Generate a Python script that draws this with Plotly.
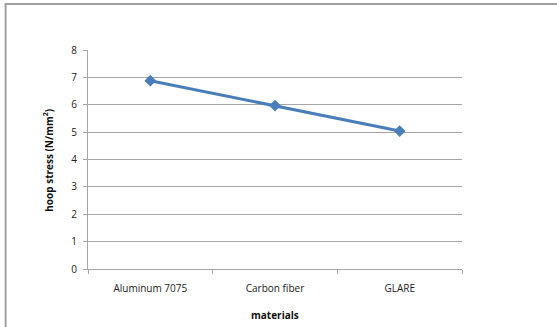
import plotly.graph_objects as go

# Hoop stress per material
materials = ["Aluminum 7075", "Carbon fiber", "GLARE"]
hoop_stress = [6.88, 5.97, 5.04]
y_ticks = [0, 1, 2, 3, 4, 5, 6, 7, 8]

W, H = 557, 327
L, R, T, B = 87.5, 95, 50, 58.3
pw, ph = W - L - R, H - T - B

def px_x(px):
    return (px - L) / pw

def px_y(py):
    return (H - B - py) / ph

grid = "#a6a6a6"
font = "Open Sans"

fig = go.Figure(
    go.Scatter(
        x=materials,
        y=hoop_stress,
        mode="lines+markers",
        line=dict(color="#4a7ebb", width=3),
        marker=dict(symbol="diamond", size=9, color="#4a7ebb"),
        showlegend=False,
    )
)

fig.update_layout(
    width=W,
    height=H,
    margin=dict(l=L, r=R, t=T, b=B),
    paper_bgcolor="white",
    plot_bgcolor="white",
    font=dict(family=font, size=10, color="#222222"),
    xaxis=dict(
        type="category",
        showgrid=False,
        showline=True,
        linecolor=grid,
        linewidth=1,
        ticks="outside",
        tickson="boundaries",
        ticklen=4,
        tickcolor=grid,
        ticklabelstandoff=10,
        tickfont=dict(family=font, size=10, color="#222222"),
        range=[-0.5, 2.5],
        fixedrange=True,
    ),
    yaxis=dict(
        range=[0, 8],
        tickvals=y_ticks,
        showgrid=True,
        gridcolor=grid,
        gridwidth=1,
        zeroline=False,
        showline=True,
        linecolor=grid,
        linewidth=1,
        ticks="outside",
        ticklen=4,
        tickcolor=grid,
        ticklabelstandoff=4,
        tickfont=dict(family=font, size=10, color="#222222"),
        fixedrange=True,
    ),
    annotations=[
        dict(
            text="<b>hoop stress (N/mm<sup>2</sup>)</b>",
            xref="paper", yref="paper",
            x=px_x(48), y=px_y(160),
            showarrow=False, textangle=-90,
            font=dict(family=font, size=10, color="#111111"),
            xanchor="center", yanchor="middle",
        ),
        dict(
            text="<b>materials</b>",
            xref="paper", yref="paper",
            x=px_x(275), y=px_y(315),
            showarrow=False,
            font=dict(family=font, size=10, color="#111111"),
            xanchor="center", yanchor="middle",
        ),
    ],
    shapes=[
        # outer chart frame (left and top edges)
        dict(type="line", xref="paper", yref="paper",
             x0=px_x(5), y0=px_y(4), x1=px_x(5), y1=px_y(340),
             line=dict(color="#a0a0a0", width=2)),
        dict(type="line", xref="paper", yref="paper",
             x0=px_x(4), y0=px_y(4), x1=px_x(570), y1=px_y(4),
             line=dict(color="#a0a0a0", width=2)),
    ],
)

fig.write_html("out.html")
